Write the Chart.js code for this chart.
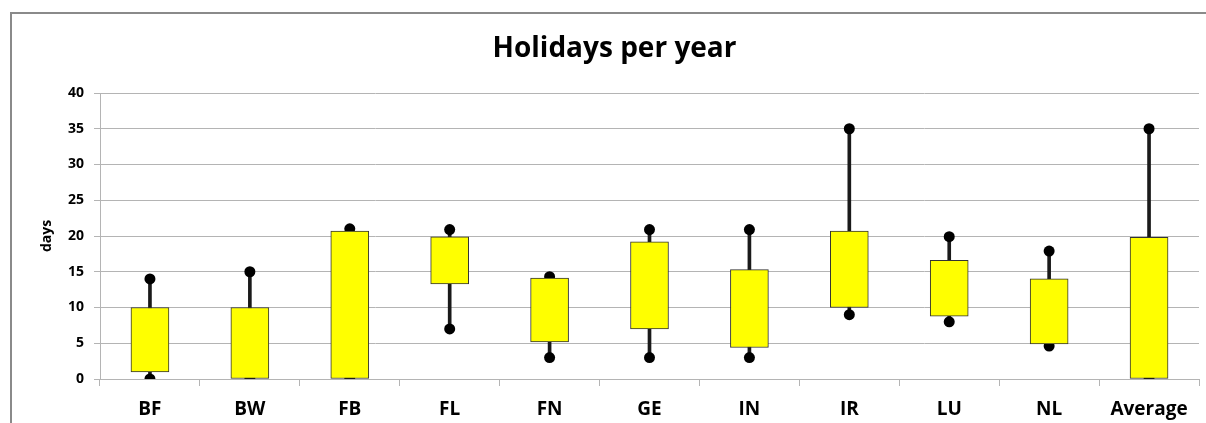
<!DOCTYPE html>
<html>
<head>
<meta charset="utf-8">
<script src="https://cdn.jsdelivr.net/npm/chart.js@4.4.1/dist/chart.umd.min.js"></script>
<style>
  html, body { margin: 0; padding: 0; background: #ffffff; }
  #wrap { position: relative; width: 1206px; height: 423px; }
  canvas { display: block; }
</style>
</head>
<body>
<div id="wrap"><canvas id="chart" width="1206" height="423"></canvas></div>
<script>
// Holidays per year by group: whisker ends and box edges (days)
const categories = ['BF', 'BW', 'FB', 'FL', 'FN', 'GE', 'IN', 'IR', 'LU', 'NL', 'Average'];
const minValues  = [0, 0, 0, 7, 3, 3, 3, 9, 8, 4.6, 0];
const boxLow     = [1, 0, 0, 13.3, 5.2, 7, 4.4, 10, 8.8, 4.9, 0];
const boxHigh    = [10, 10, 20.7, 19.9, 14.1, 19.2, 15.3, 20.7, 16.6, 14.0, 19.8];
const maxValues  = [14, 15, 21, 20.9, 14.3, 20.9, 20.9, 35, 19.9, 17.9, 35];
const yTicks     = [0, 5, 10, 15, 20, 25, 30, 35, 40];

const FONT = "'Open Sans', 'DejaVu Sans', sans-serif";
const GRID = '#b4b4b4';

// Outer frame of the chart panel (top and left edges)
const framePlugin = {
  id: 'frame',
  beforeDraw(chart) {
    const ctx = chart.ctx;
    ctx.save();
    ctx.strokeStyle = '#8a8a8a';
    ctx.lineWidth = 2;
    ctx.beginPath();
    ctx.moveTo(1206, 13);
    ctx.lineTo(11, 13);
    ctx.lineTo(11, 423);
    ctx.stroke();
    ctx.restore();
  }
};

new Chart(document.getElementById('chart'), {
  type: 'bar',
  data: {
    labels: categories,
    datasets: [
      {
        // interquartile boxes, drawn on top
        type: 'bar',
        data: boxLow.map((v, i) => [v, boxHigh[i]]),
        backgroundColor: '#ffff00',
        borderColor: '#333333',
        borderWidth: 1,
        borderSkipped: false,
        barThickness: 38,
        grouped: false,
        order: 0
      },
      {
        type: 'line',
        data: maxValues,
        showLine: false,
        pointRadius: 5.5,
        pointHoverRadius: 5.5,
        pointBackgroundColor: '#000000',
        pointBorderWidth: 0,
        clip: 0,
        order: 1
      },
      {
        type: 'line',
        data: minValues,
        showLine: false,
        pointRadius: 5.5,
        pointHoverRadius: 5.5,
        pointBackgroundColor: '#000000',
        pointBorderWidth: 0,
        clip: 0,
        order: 1
      },
      {
        // whiskers from min to max
        type: 'bar',
        data: minValues.map((v, i) => [v, maxValues[i]]),
        backgroundColor: '#1a1a1a',
        borderWidth: 0,
        barThickness: 3,
        grouped: false,
        order: 2
      }
    ]
  },
  options: {
    responsive: false,
    animation: false,
    events: [],
    layout: { padding: { left: 30, right: 7, top: 0, bottom: 0 } },
    plugins: {
      legend: { display: false },
      tooltip: { enabled: false },
      title: {
        display: true,
        text: 'Holidays per year',
        color: '#000000',
        font: { family: FONT, size: 28, weight: 'bold', lineHeight: 1.2 },
        padding: { top: 32.7, bottom: 26.7 }
      }
    },
    scales: {
      x: {
        offset: true,
        grid: {
          offset: true,
          drawOnChartArea: false,
          drawTicks: true,
          tickLength: 7,
          color: GRID,
          lineWidth: 1
        },
        border: { color: GRID, width: 1 },
        ticks: {
          color: '#000000',
          font: { family: FONT, size: 19, weight: 'bold' },
          padding: 12,
          maxRotation: 0,
          autoSkip: false
        },
        afterFit(scale) { scale.height = 44; }
      },
      y: {
        min: 0,
        max: 40,
        afterBuildTicks(scale) { scale.ticks = yTicks.map(v => ({ value: v })); },
        grid: {
          color: GRID,
          lineWidth: 1,
          drawTicks: true,
          tickLength: 6
        },
        border: { color: GRID, width: 1 },
        ticks: {
          color: '#000000',
          font: { family: FONT, size: 14, weight: 'bold' },
          padding: 10
        },
        title: {
          display: true,
          text: 'days',
          color: '#000000',
          font: { family: FONT, size: 14, weight: 'bold', lineHeight: 1.2 },
          padding: { top: 9, bottom: 0 }
        },
        afterFit(scale) { scale.width = 70; }
      }
    }
  },
  plugins: [framePlugin]
});
</script>
</body>
</html>
